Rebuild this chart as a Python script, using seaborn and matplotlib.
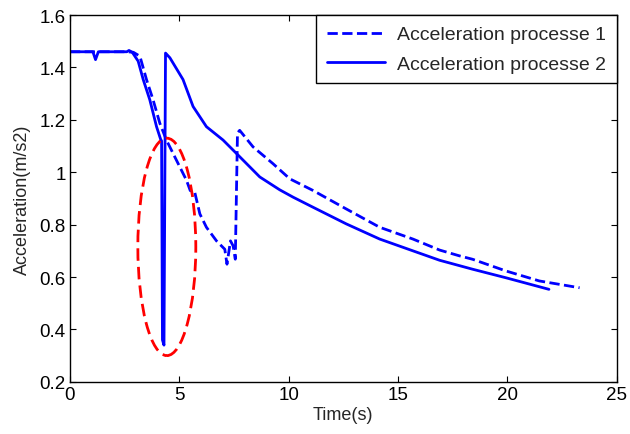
import matplotlib
matplotlib.use("Agg")
import matplotlib.pyplot as plt
from matplotlib.patches import Ellipse
import seaborn as sns
import pandas as pd

# Series 1 (dashed)
t1 = [0, 2.6, 2.9, 3.2, 3.5, 3.8, 4.11, 4.41, 4.87, 5.33, 5.5, 5.7, 5.94, 6.24,
      6.7, 7.08, 7.18, 7.34, 7.46, 7.56, 7.66, 7.76, 8.37, 9.28, 10.05, 11.1,
      12.63, 14.16, 15.68, 16.9, 17.8, 18.4, 19.94, 21.46, 23.3]
a1 = [1.46, 1.46, 1.458, 1.443, 1.354, 1.277, 1.187, 1.123, 1.046, 0.969, 0.93,
      0.926, 0.841, 0.79, 0.738, 0.706, 0.649, 0.738, 0.719, 0.668, 1.15, 1.16,
      1.097, 1.033, 0.975, 0.931, 0.86, 0.79, 0.745, 0.703, 0.681, 0.668, 0.623,
      0.585, 0.559]

# Series 2 (solid)
t2 = [0, 1.05, 1.17, 1.3, 2.6, 2.7, 2.85, 3.12, 3.35, 3.65, 3.96, 4.15, 4.19,
      4.23, 4.30, 4.37, 4.57, 5.17, 5.63, 6.24, 7.0, 7.61, 8.68, 9.59, 10.2,
      11.1, 12.63, 14.16, 15.68, 16.9, 18.4, 19.94, 21.9]
a2 = [1.46, 1.46, 1.43, 1.46, 1.46, 1.465, 1.458, 1.424, 1.354, 1.277, 1.174,
      1.125, 1.12, 0.36, 0.34, 1.455, 1.437, 1.354, 1.251, 1.174, 1.123, 1.072,
      0.982, 0.933, 0.905, 0.867, 0.803, 0.745, 0.70, 0.664, 0.630, 0.597, 0.553]

labels = ["Acceleration processe 1", "Acceleration processe 2"]
xticks = [0, 5, 10, 15, 20, 25]
yticks = [0.2, 0.4, 0.6, 0.8, 1.0, 1.2, 1.4, 1.6]
ytick_labels = ["0.2", "0.4", "0.6", "0.8", "1", "1.2", "1.4", "1.6"]

# Highlight ellipse (center t, center a, width, height)
ell_center = (4.43, 0.715)
ell_w, ell_h = 2.65, 0.83

sns.set_theme(style="white")
plt.rcParams["font.family"] = ["Liberation Sans", "DejaVu Sans"]

fig = plt.figure(figsize=(6.3, 4.35), dpi=100)
ax = fig.add_axes([0.111, 0.12, 0.868, 0.843])

df1 = pd.DataFrame({"t": t1, "a": a1})
df2 = pd.DataFrame({"t": t2, "a": a2})
sns.lineplot(data=df1, x="t", y="a", ax=ax, color="#0000FF", linewidth=2.0,
             linestyle="--", sort=False, estimator=None, label=labels[0])
sns.lineplot(data=df2, x="t", y="a", ax=ax, color="#0000FF", linewidth=2.0,
             linestyle="-", sort=False, estimator=None, label=labels[1])

ax.add_patch(Ellipse(ell_center, ell_w, ell_h, fill=False, edgecolor="#FF0000",
                     linestyle=(0, (4.5, 2.2)), linewidth=2.0, zorder=3))

ax.set_xlim(0, 25)
ax.set_ylim(0.2, 1.6)
ax.set_xticks(xticks)
ax.set_xticklabels([str(x) for x in xticks])
ax.set_yticks(yticks)
ax.set_yticklabels(ytick_labels)
ax.set_xlabel("Time(s)", fontsize=13, labelpad=2)
ax.set_ylabel("Acceleration(m/s2)", fontsize=13, labelpad=6)
ax.tick_params(direction="in", length=4, width=0.8, labelsize=13.5,
               top=True, right=True, bottom=True, left=True, pad=3, colors="black")
for s in ax.spines.values():
    s.set_color("black")
    s.set_linewidth(1.0)

leg = ax.legend(loc="upper right", fontsize=14, frameon=True, fancybox=False,
                borderaxespad=0, handlelength=3.0, handletextpad=0.6,
                labelspacing=0.6, borderpad=0.55)
leg.get_frame().set_edgecolor("black")
leg.get_frame().set_linewidth(1.0)
leg.get_frame().set_alpha(1)

fig.savefig("out.png", dpi=100)
